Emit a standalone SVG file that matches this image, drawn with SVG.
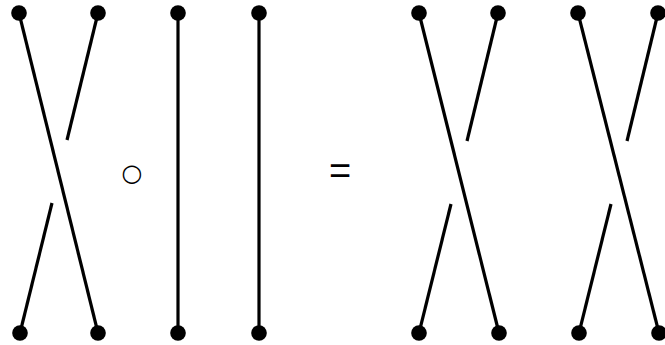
<svg xmlns="http://www.w3.org/2000/svg" width="665" height="345" viewBox="0 0 665 345">
<style>
.s{stroke:#000;stroke-width:3.2;fill:none;stroke-linecap:butt}
.d{fill:#000}
.t{font-family:"Liberation Sans",Arial,sans-serif;fill:#000}
</style>
<rect width="665" height="345" fill="#fff"/>
<g id="connectors">
<line class="s" x1="19" y1="13" x2="98" y2="333"/>
<line class="s" x1="98" y1="13" x2="67" y2="140"/>
<line class="s" x1="52" y1="203" x2="20" y2="333"/>
<line class="s" x1="178" y1="13" x2="178" y2="333"/>
<line class="s" x1="259" y1="13" x2="259" y2="333"/>
<line class="s" x1="419" y1="13" x2="499" y2="333"/>
<line class="s" x1="498" y1="13" x2="467" y2="141"/>
<line class="s" x1="451" y1="204" x2="419" y2="333"/>
<line class="s" x1="578" y1="13" x2="659" y2="333"/>
<line class="s" x1="658" y1="13" x2="627" y2="141"/>
<line class="s" x1="611" y1="204" x2="579" y2="333"/>
</g>
<g id="n1"><circle class="d" cx="19" cy="13" r="7.8"/></g>
<g id="n2"><circle class="d" cx="98" cy="13" r="7.8"/></g>
<g id="n3"><circle class="d" cx="20" cy="333" r="7.8"/></g>
<g id="n4"><circle class="d" cx="98" cy="333" r="7.8"/></g>
<g id="n5"><circle class="d" cx="178" cy="13" r="7.8"/></g>
<g id="n6"><circle class="d" cx="259" cy="13" r="7.8"/></g>
<g id="n7"><circle class="d" cx="178" cy="333" r="7.8"/></g>
<g id="n8"><circle class="d" cx="259" cy="333" r="7.8"/></g>
<g id="n9"><circle class="d" cx="419" cy="13" r="7.8"/></g>
<g id="n10"><circle class="d" cx="498" cy="13" r="7.8"/></g>
<g id="n11"><circle class="d" cx="419" cy="333" r="7.8"/></g>
<g id="n12"><circle class="d" cx="499" cy="333" r="7.8"/></g>
<g id="n13"><circle class="d" cx="578" cy="13" r="7.8"/></g>
<g id="n14"><circle class="d" cx="658" cy="13" r="7.8"/></g>
<g id="n15"><circle class="d" cx="579" cy="333" r="7.8"/></g>
<g id="n16"><circle class="d" cx="659" cy="333" r="7.8"/></g>
<g id="compose"><text x="132" y="181" font-size="24" text-anchor="middle" font-family="'DejaVu Sans',sans-serif">○</text></g>
<g id="equals"><text class="t" x="340" y="184" font-size="38" text-anchor="middle">=</text></g>
</svg>
